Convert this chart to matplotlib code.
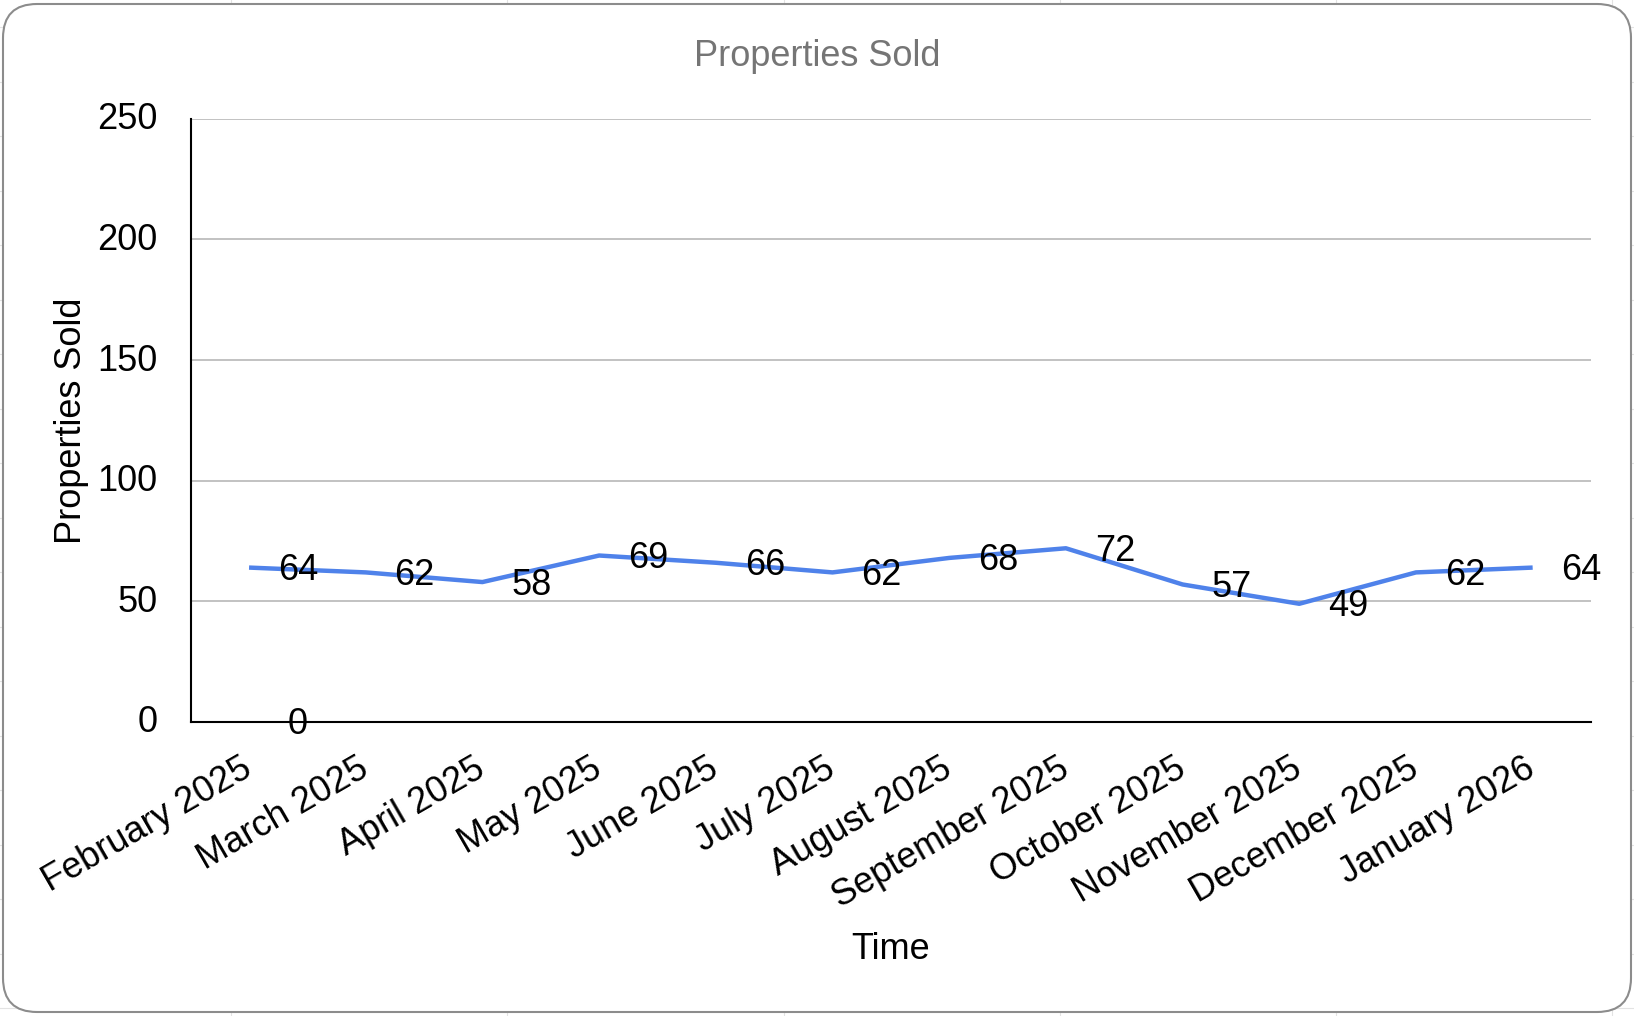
import matplotlib
matplotlib.use("Agg")
import matplotlib.pyplot as plt
from matplotlib.patches import FancyBboxPatch
from matplotlib.lines import Line2D
from matplotlib.transforms import IdentityTransform, ScaledTranslation
import numpy as np

# data
months = ["February 2025", "March 2025", "April 2025", "May 2025", "June 2025",
          "July 2025", "August 2025", "September 2025", "October 2025",
          "November 2025", "December 2025", "January 2026"]
sold = [64, 62, 58, 69, 66, 62, 68, 72, 57, 49, 62, 64]
# stray zero label shown under the first month
zero_series = [0]
y_ticks = [0, 50, 100, 150, 200, 250]

plt.rcParams['font.family'] = ['Liberation Sans', 'DejaVu Sans']
FS = 26

W, H = 1634, 1016
fig = plt.figure(figsize=(W / 100, H / 100), dpi=100)

# faint spreadsheet cell grid behind the chart card
for gx in [231, 507, 784, 1060, 1336, 1612]:
    fig.add_artist(Line2D([gx, gx], [0, H], color='#e3e3e3', lw=0.8,
                          transform=IdentityTransform(), zorder=0))
for gy in np.arange(27, H, 54.5):
    fig.add_artist(Line2D([0, W], [H - gy, H - gy], color='#e3e3e3', lw=0.8,
                          transform=IdentityTransform(), zorder=0))

# rounded chart card
card = FancyBboxPatch((3, 4), W - 6, H - 8,
                      boxstyle="round,pad=0,rounding_size=34",
                      facecolor='white', edgecolor='#8c8c8c', lw=1.5,
                      transform=IdentityTransform(), zorder=1)
fig.add_artist(card)

ax = fig.add_axes([190.7 / W, 1 - 722 / H, (1591 - 190.7) / W, (722 - 118.8) / H])
ax.set_zorder(2)
ax.patch.set_alpha(0)

x = np.arange(len(months))
ax.plot(x, sold, color='#4f82ea', lw=3.2, solid_capstyle='butt', zorder=3)

# data labels sit to the right of each point, a hair below centre
down = ScaledTranslation(0, -3 / 100, fig.dpi_scale_trans)
for i, v in enumerate(sold):
    ax.text(i + 0.42, v, str(v), ha='center', va='center', fontsize=FS,
            zorder=4, transform=ax.transData + down)
for i, v in enumerate(zero_series):
    ax.text(i + 0.42, v, str(v), ha='center', va='center', fontsize=FS,
            zorder=4, transform=ax.transData + down)

ax.set_xlim(-0.5, len(months) - 0.5)
ax.set_ylim(0, 250)
ax.set_yticks(y_ticks)
ax.set_yticklabels([str(t) for t in y_ticks], fontsize=FS)
ax.set_xticks(x)
ax.set_xticklabels(months, fontsize=FS, rotation=30, ha='right',
                   va='center', rotation_mode='anchor')
ax.tick_params(axis='y', length=0, pad=24)
ax.tick_params(axis='x', length=0, pad=32)

# y tick labels sit a touch above their gridlines
up = ScaledTranslation(0, 3 / 100, fig.dpi_scale_trans)
for lbl in ax.get_yticklabels():
    lbl.set_transform(lbl.get_transform() + up)

ax.grid(axis='y', color='#b7b7b7', lw=1.2)
ax.set_axisbelow(True)
for s in ['top', 'right']:
    ax.spines[s].set_visible(False)
ax.spines['left'].set_color('black')
ax.spines['bottom'].set_color('black')
ax.spines['left'].set_linewidth(1.5)
ax.spines['bottom'].set_linewidth(1.5)
ax.spines['left'].set_zorder(5)
ax.spines['bottom'].set_zorder(5)

ax.set_ylabel('Properties Sold', fontsize=FS)
ax.yaxis.set_label_coords(-0.0726, 0.5)
ax.set_xlabel('Time', fontsize=FS)
ax.xaxis.set_label_coords(0.5, -0.348)

fig.text(0.5, 1 - 56 / H, 'Properties Sold', ha='center', va='center',
         fontsize=FS, color='#757575')

fig.savefig('out.png', dpi=100)
